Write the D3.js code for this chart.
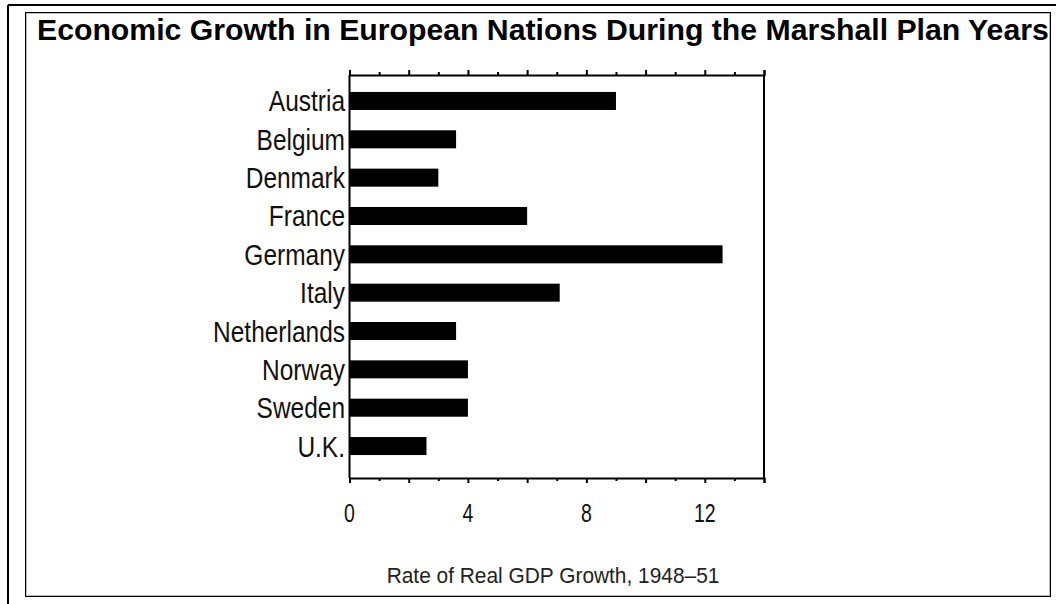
<!DOCTYPE html>
<html>
<head>
<meta charset="utf-8">
<script src="https://cdn.jsdelivr.net/npm/d3@7"></script>
<style>
  body { margin: 0; background: #fff; }
  svg { display: block; }
</style>
</head>
<body>
<div id="chart"></div>
<script>
// data
const countries = ['Austria', 'Belgium', 'Denmark', 'France', 'Germany',
  'Italy', 'Netherlands', 'Norway', 'Sweden', 'U.K.'];
const growth = [9.0, 3.6, 3.0, 6.0, 12.6, 7.1, 3.6, 4.0, 4.0, 2.6];
const majorTicks = [0, 2, 4, 6, 8, 10, 12, 14];
const minorTicks = [1, 3, 5, 7, 9, 11, 13];
const tickLabels = [0, 4, 8, 12];

const title = 'Economic Growth in European Nations During the Marshall Plan Years';
const xTitle = 'Rate of Real GDP Growth, 1948\u201351';

const W = 1056, H = 604;
// no Arial Narrow here, so squeeze Liberation Sans sideways
const sans = '"Liberation Sans", Arial, sans-serif';

const svg = d3.select('#chart').append('svg')
  .attr('width', W)
  .attr('height', H);

// outer frame (top + left heavy lines) and inner box
svg.append('line').attr('x1', 8).attr('x2', W).attr('y1', 5).attr('y2', 5)
  .attr('stroke', '#000').attr('stroke-width', 2);
svg.append('line').attr('x1', 8).attr('x2', 8).attr('y1', 5).attr('y2', H)
  .attr('stroke', '#000').attr('stroke-width', 2);
svg.append('rect').attr('x', 25.5).attr('y', 12.5).attr('width', 1025).attr('height', 584)
  .attr('fill', 'none').attr('stroke', '#000').attr('stroke-width', 1);
svg.append('rect').attr('x', 26.5).attr('y', 13.5).attr('width', 1023).attr('height', 582)
  .attr('fill', 'none').attr('stroke', '#bbb').attr('stroke-width', 1);

// title, stretched to fill the box width
const t = svg.append('text')
  .style('font-family', sans)
  .style('font-weight', 'bold')
  .style('font-size', '29px')
  .text(title);
const tw = t.node().getComputedTextLength();
t.attr('transform', `translate(37,40) scale(${1012 / tw},1)`);

const plot = {left: 349.5, right: 764, top: 75, bottom: 478};

const x = d3.scaleLinear().domain([0, 14]).range([plot.left, plot.right]);
const y = d3.scaleBand().domain(countries)
  .range([81.8, 465.2])
  .paddingInner(0.53)
  .paddingOuter(0.265);

// bars
svg.append('g').selectAll('rect')
  .data(countries)
  .join('rect')
    .attr('x', x(0))
    .attr('y', d => y(d))
    .attr('width', (d, i) => x(growth[i]) - x(0))
    .attr('height', y.bandwidth())
    .attr('fill', '#000');

function drawAxis(axisFn, yPos) {
  const g = svg.append('g').attr('transform', `translate(0,${yPos})`);
  g.call(axisFn(x).tickValues(majorTicks).tickSize(5).tickFormat(''));
  const minor = g.append('g').call(axisFn(x).tickValues(minorTicks).tickSize(3).tickFormat(''));
  minor.select('.domain').remove();
  g.selectAll('.domain').attr('stroke-width', 2);
  g.selectAll('.tick line').attr('stroke-width', 2);
  return g;
}

drawAxis(d3.axisBottom, plot.bottom);
drawAxis(d3.axisTop, plot.top);

// left/right closing lines
svg.append('line').attr('x1', plot.left).attr('x2', plot.left)
  .attr('y1', plot.top).attr('y2', plot.bottom)
  .attr('stroke', '#000').attr('stroke-width', 2);
svg.append('line').attr('x1', plot.right).attr('x2', plot.right)
  .attr('y1', plot.top).attr('y2', plot.bottom)
  .attr('stroke', '#000').attr('stroke-width', 2);

// tick labels
svg.append('g').selectAll('text')
  .data(tickLabels)
  .join('text')
    .attr('transform', d => `translate(${x(d)},522) scale(0.78,1)`)
    .attr('text-anchor', 'middle')
    .style('font-family', sans)
    .style('font-size', '25px')
    .style('fill', '#111')
    .text(d => d);

// category labels
svg.append('g').selectAll('text')
  .data(countries)
  .join('text')
    .attr('transform', d => `translate(345,${y(d) + y.bandwidth() / 2 + 10.5}) scale(0.83,1)`)
    .attr('text-anchor', 'end')
    .style('font-family', sans)
    .style('font-size', '29.5px')
    .style('fill', '#111')
    .text(d => d);

svg.append('text')
  .attr('transform', 'translate(553,583) scale(0.95,1)')
  .attr('text-anchor', 'middle')
  .style('font-family', sans)
  .style('font-size', '22px')
  .style('fill', '#222')
  .text(xTitle);
</script>
</body>
</html>
